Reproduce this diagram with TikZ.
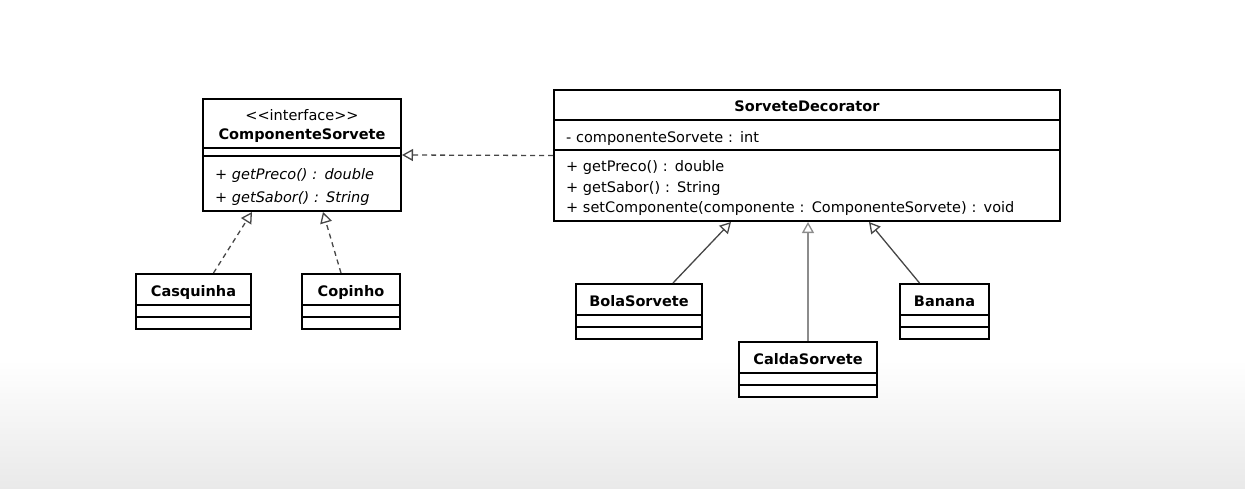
\documentclass[tikz,border=0pt]{standalone}
\usepackage{fontspec}
\setmainfont{DejaVu Sans}
\usetikzlibrary{shapes.multipart, arrows.meta, positioning}
\definecolor{linecolor}{RGB}{70,70,70}
\definecolor{bgbottom}{RGB}{233,233,233}
% compartment struts
\newcommand{\cmptop}{\rule{0pt}{18pt}}
\newcommand{\cmpbot}{\rule[-4.5pt]{0pt}{4.5pt}}
\newcommand{\cmpgap}[1]{\rule{0pt}{#1}}

\begin{document}
\begin{tikzpicture}[
    x=1pt, y=-1pt,
    umlclass/.style={draw, line width=2pt, fill=white, rectangle split, rectangle split parts=3, anchor=north west, inner xsep=5pt, inner ysep=3pt, font=\fontsize{14.5}{18.5}\selectfont, text width=#1},
    realize/.style={-{Triangle[open, length=11pt, width=12pt, fill=white]}, line width=1.3pt, draw=linecolor, dash pattern=on 5pt off 4pt},
    inherit/.style={-{Triangle[open, length=11pt, width=12pt, fill=white]}, line width=1.3pt, draw=linecolor}
]
    % Background
    \shade[top color=white, bottom color=bgbottom] (0,360) rectangle (1245,489);
    \useasboundingbox (0,0) rectangle (1245,489);

    % Interface
    \node[umlclass=174pt, inner xsep=12pt] (iface) at (202,98) {\centering\cmptop\textless\kern0pt\textless interface\textgreater\kern0pt\textgreater\\\textbf{ComponenteSorvete}\cmpbot\par
        \nodepart{two}\cmpgap{0pt}
        \nodepart{three}\raggedright\itshape\rule{0pt}{20pt}+ getPreco() : double\\[4pt]+ getSabor() : String\cmpbot\par};

    % Decorator
    \node[umlclass=482pt, inner xsep=12pt] (dec) at (553,89) {\centering\cmptop\textbf{SorveteDecorator}\cmpbot\par
        \nodepart{two}\raggedright\cmptop- componenteSorvete : int\rule[-1.5pt]{0pt}{1.5pt}\par
        \nodepart{three}\raggedright\cmptop+ getPreco() : double\\[2pt]+ getSabor() : String\\[2pt]+ setComponente(componente : ComponenteSorvete) : void\cmpbot\par};

    % Concrete components
    \node[umlclass=105pt] (casq) at (135,273) {\centering\cmptop\textbf{Casquinha}\cmpbot\par \nodepart{two}\cmpgap{4pt} \nodepart{three}\cmpgap{4pt}};
    \node[umlclass=88pt] (copinho) at (301,273) {\centering\cmptop\textbf{Copinho}\cmpbot\par \nodepart{two}\cmpgap{4pt} \nodepart{three}\cmpgap{4pt}};

    % Decorators
    \node[umlclass=116pt] (bola) at (575,283) {\centering\cmptop\textbf{BolaSorvete}\cmpbot\par \nodepart{two}\cmpgap{4pt} \nodepart{three}\cmpgap{4pt}};
    \node[umlclass=128pt] (calda) at (738,341) {\centering\cmptop\textbf{CaldaSorvete}\cmpbot\par \nodepart{two}\cmpgap{4pt} \nodepart{three}\cmpgap{4pt}};
    \node[umlclass=79pt] (banana) at (899,283) {\centering\cmptop\textbf{Banana}\cmpbot\par \nodepart{two}\cmpgap{4pt} \nodepart{three}\cmpgap{4pt}};

    % Realization
    \draw[realize] (dec.west) -- (iface.east);
    \draw[realize] ([xshift=20pt]casq.north) -- ([xshift=-50pt]iface.south);
    \draw[realize] ([xshift=-10pt]copinho.north) -- ([xshift=21pt]iface.south);

    % Inheritance
    \draw[inherit] ([xshift=34pt]bola.north) -- ([xshift=-76pt]dec.south);
    \draw[inherit, draw=black!45] (calda.north) -- (calda.north |- dec.south);
    \draw[inherit] ([xshift=-25pt]banana.north) -- ([xshift=62pt]dec.south);
\end{tikzpicture}
\end{document}
